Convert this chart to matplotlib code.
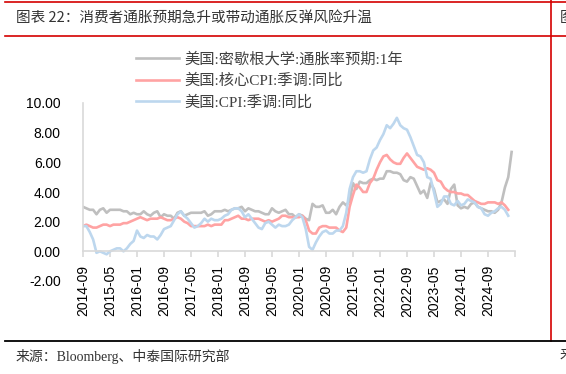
import matplotlib
matplotlib.use('Agg')
import matplotlib.pyplot as plt
from matplotlib.lines import Line2D
import numpy as np

plt.rcParams['font.family'] = ['Liberation Sans', 'Noto Sans CJK SC']

# monthly data, starting 2014-09
michigan_1y = [
    3.0, 2.9, 2.8, 2.8,
    2.5, 2.8, 2.9, 2.6, 2.8, 2.8, 2.8, 2.8, 2.7, 2.7, 2.5, 2.6,
    2.5, 2.5, 2.7, 2.5, 2.4, 2.6, 2.7, 2.3, 2.5, 2.4, 2.4, 2.2,
    2.6, 2.7, 2.4, 2.5, 2.6, 2.6, 2.6, 2.6, 2.7, 2.4, 2.5, 2.7,
    2.7, 2.7, 2.8, 2.7, 2.8, 2.9, 2.9, 3.0, 2.7, 2.9, 2.8, 2.7,
    2.7, 2.6, 2.5, 2.5, 2.9, 2.7, 2.6, 2.7, 2.8, 2.5, 2.5, 2.3,
    2.5, 2.4, 2.2, 2.1, 3.2, 3.0, 3.0, 3.1, 2.6, 2.6, 2.8, 2.5,
    3.0, 3.3, 3.1, 3.4, 4.6, 4.2, 4.7, 4.6, 4.6, 4.8, 4.9, 4.8,
    4.9, 4.9, 5.4, 5.4, 5.3, 5.3, 5.2, 4.8, 4.7, 5.0, 4.9, 4.4,
    3.9, 4.1, 3.6, 4.6, 4.2, 3.3, 3.4, 3.5, 3.2, 4.2, 4.5, 3.1,
    2.9, 3.0, 2.9, 3.2, 3.3, 3.0, 2.9, 2.8, 2.7, 2.7, 2.6, 2.8,
    3.3, 4.3, 5.0, 6.7,
]
core_cpi = [
    1.7, 1.8, 1.7, 1.6,
    1.6, 1.7, 1.8, 1.8, 1.7, 1.8, 1.8, 1.8, 1.9, 1.9, 2.0, 2.1,
    2.2, 2.3, 2.2, 2.1, 2.2, 2.2, 2.2, 2.3, 2.2, 2.1, 2.1, 2.2,
    2.3, 2.2, 2.0, 1.9, 1.7, 1.7, 1.7, 1.7, 1.7, 1.8, 1.7, 1.8,
    1.8, 1.8, 2.1, 2.1, 2.2, 2.3, 2.4, 2.2, 2.2, 2.1, 2.2, 2.2,
    2.2, 2.1, 2.0, 2.1, 2.0, 2.1, 2.2, 2.4, 2.4, 2.3, 2.3, 2.3,
    2.3, 2.4, 2.1, 1.4, 1.2, 1.2, 1.6, 1.7, 1.7, 1.6, 1.6, 1.6,
    1.4, 1.3, 1.6, 3.0, 3.8, 4.5, 4.3, 4.0, 4.0, 4.6, 4.9, 5.5,
    6.0, 6.4, 6.5, 6.2, 6.0, 5.9, 5.9, 6.3, 6.6, 6.3, 6.0, 5.7,
    5.6, 5.5, 5.6, 5.5, 5.3, 4.8, 4.7, 4.3, 4.1, 4.0, 4.0, 3.9,
    3.9, 3.8, 3.8, 3.6, 3.4, 3.3, 3.2, 3.2, 3.3, 3.3, 3.3, 3.2,
    3.3, 3.1, 2.8,
]
cpi = [
    1.7, 1.7, 1.3, 0.8,
    -0.1, 0.0, -0.1, -0.2, 0.0, 0.1, 0.2, 0.2, 0.0, 0.2, 0.5, 0.7,
    1.4, 1.0, 0.9, 1.1, 1.0, 1.0, 0.8, 1.1, 1.5, 1.6, 1.7, 2.1,
    2.5, 2.7, 2.4, 2.2, 1.9, 1.6, 1.7, 1.9, 2.2, 2.0, 2.2, 2.1,
    2.1, 2.2, 2.4, 2.5, 2.8, 2.9, 2.9, 2.7, 2.3, 2.5, 2.2, 1.9,
    1.6, 1.5, 1.9, 2.0, 1.8, 1.6, 1.8, 1.7, 1.7, 1.8, 2.1, 2.3,
    2.5, 2.3, 1.5, 0.3, 0.1, 0.6, 1.0, 1.3, 1.4, 1.2, 1.2, 1.4,
    1.4, 1.7, 2.6, 4.2, 5.0, 5.4, 5.4, 5.3, 5.4, 6.2, 6.8, 7.0,
    7.5, 7.9, 8.5, 8.3, 8.6, 9.0, 8.5, 8.3, 8.2, 7.7, 7.1, 6.5,
    6.4, 6.0, 5.0, 4.9, 4.0, 3.0, 3.2, 3.7, 3.7, 3.2, 3.1, 3.4,
    3.1, 3.2, 3.5, 3.4, 3.3, 3.0, 2.9, 2.5, 2.4, 2.6, 2.7, 2.9,
    3.0, 2.8, 2.4,
]
tick_labels = ['2014-09', '2015-05', '2016-01', '2016-09', '2017-05', '2018-01',
               '2018-09', '2019-05', '2020-01', '2020-09', '2021-05', '2022-01',
               '2022-09', '2023-05', '2024-01', '2024-09', '']
names = ['美国:密歇根大学:通胀率预期:1年', '美国:核心CPI:季调:同比', '美国:CPI:季调:同比']
colors = ['#BFBFBF', '#FFA3A3', '#BDD7EE']

legend_font = ['Liberation Serif', 'Noto Sans CJK SC']

fig = plt.figure(figsize=(5.66, 3.74), dpi=100)
ax = fig.add_axes([83 / 566, 1 - 281 / 374, 432 / 566, 178 / 374])

for series, name, c in zip([michigan_1y, core_cpi, cpi], names, colors):
    ax.plot(np.arange(len(series)), series, color=c, linewidth=1.9, label=name,
            solid_joinstyle='round')

# spine position first: moving a spine resets the tick labels
for s in ['top', 'right']:
    ax.spines[s].set_visible(False)
ax.spines['bottom'].set_position(('data', 0))
ax.spines['left'].set_bounds(0, 10)
for s in ['bottom', 'left']:
    ax.spines[s].set_color('#D9D9D9')
    ax.spines[s].set_linewidth(1.2)

ax.set_xlim(0, 128)
ax.set_ylim(-2, 10)
ax.set_yticks(np.arange(-2, 10.1, 2))
ax.set_yticklabels(['%.2f' % v for v in np.arange(-2, 10.1, 2)], fontsize=10)
ax.set_xticks(np.arange(0, 129, 8))
ax.set_xticklabels(tick_labels, rotation=90, fontsize=10)
ax.tick_params(axis='y', length=0, pad=16)
ax.tick_params(axis='x', length=4, width=1.2, color='#D9D9D9', pad=6)

leg = ax.legend(loc='upper left', bbox_to_anchor=(136 / 566, 1 - 52 / 374),
                bbox_transform=fig.transFigure, frameon=False, borderpad=0,
                borderaxespad=0, handlelength=2.8, handletextpad=0.35,
                labelspacing=0.45, prop={'family': legend_font, 'size': 11})
for t in leg.get_texts():
    t.set_color('#404040')

# frame lines of the report page
red = '#D40000'
fig.add_artist(Line2D([5 / 566, 1], [1 - 1.5 / 374] * 2, color=red, lw=1.2))
fig.add_artist(Line2D([5 / 566, 1], [1 - 36 / 374] * 2, color=red, lw=1.2))
fig.add_artist(Line2D([551 / 566] * 2, [1 - 341 / 374, 1], color=red, lw=1.2))
fig.add_artist(Line2D([5 / 566, 1], [1 - 341 / 374] * 2, color='black', lw=1.3))

fig.text(16 / 566, 1 - 18 / 374, '图表 22：消费者通胀预期急升或带动通胀反弹风险升温',
         family=['Noto Sans CJK SC'], fontsize=10.5, color='#333333', va='center')
fig.text(16 / 566, 1 - 356 / 374, '来源：Bloomberg、中泰国际研究部',
         family=legend_font, fontsize=10, color='#333333', va='center')
fig.text(560 / 566, 1 - 18 / 374, '图', family=['Noto Sans CJK SC'], fontsize=10.5,
         color='#333333', va='center')
fig.text(560 / 566, 1 - 356 / 374, '来', family=legend_font, fontsize=10,
         color='#333333', va='center')

fig.savefig('out.png', dpi=100)
